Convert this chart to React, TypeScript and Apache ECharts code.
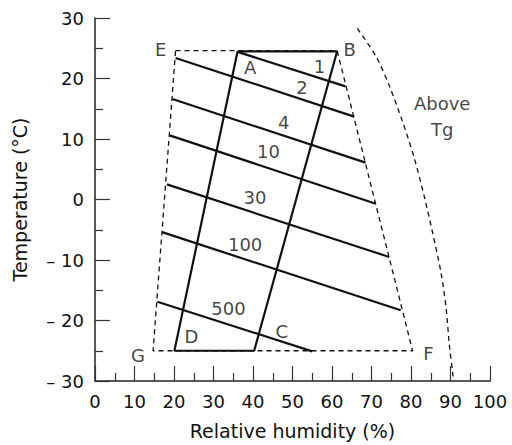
import React, { useEffect, useRef } from "react";
import * as echarts from "echarts";

// Region outline (dashed): E -> B -> F -> G -> E
const outlineX = [20.4, 61.3, 80.4, 14.7, 20.4];
const outlineY = [24.6, 24.6, -25.0, -25.0, 24.6];

// Solid parallelogram A -> B -> C -> D -> A
const paraX = [36.1, 61.3, 40.3, 20.1, 36.1];
const paraY = [24.5, 24.5, -25.0, -25.0, 24.5];

// Iso-lines (constant values)
const isoNames = ["1", "2", "4", "10", "30", "100", "500"];
const isoStartX = [36.1, 20.4, 19.6, 18.9, 18.2, 17.0, 15.8];
const isoStartY = [24.4, 23.4, 16.6, 10.6, 2.5, -5.4, -16.9];
const isoEndX = [63.4, 65.6, 68.5, 71.1, 74.5, 77.4, 55.0];
const isoEndY = [18.7, 13.7, 6.1, -0.7, -9.5, -18.3, -25.1];

// Above Tg boundary curve
const tgX = [66.4, 71.1, 74.5, 77.9, 80.8, 83.4, 85.5, 87.6, 88.9, 89.7, 90.6, 90.8];
const tgY = [28.3, 23.7, 18.8, 12.8, 6.9, 0.4, -5.6, -12.1, -18.0, -24.0, -28.9, -30.0];

// Text labels
const labelText = ["1", "2", "4", "10", "30", "100", "500", "A", "B", "E", "C", "D", "G", "F", "Above\nTg"];
const labelX = [56.8, 52.4, 47.8, 43.9, 40.5, 38.0, 33.8, 39.3, 64.5, 16.6, 47.3, 24.4, 10.9, 84.4, 87.9];
const labelY = [22.0, 18.5, 12.7, 7.9, 0.4, -7.4, -18.0, 21.8, 24.8, 24.8, -21.9, -22.7, -25.8, -25.4, 13.7];

const xTicksMin = 0;
const xTicksMax = 100;
const yTicksMin = -30;
const yTicksMax = 30;

const FONT = "DejaVu Sans";
const INK = "#111";

function zip(xs: number[], ys: number[]) {
  return xs.map((x, i) => [x, ys[i]]);
}

export default function App() {
  const ref = useRef<HTMLDivElement>(null);
  useEffect(() => {
    if (!ref.current) return;
    const chart = echarts.init(ref.current, undefined, { renderer: "svg" });
    const axisCommon = {
      axisLine: { show: true, onZero: false, lineStyle: { color: "#222", width: 1.5 } },
      axisTick: { show: true, inside: true, length: 15, lineStyle: { color: "#333", width: 1.2 } },
      minorTick: { show: true, splitNumber: 2, length: 8, lineStyle: { color: "#333", width: 1.2 } },
      splitLine: { show: false },
      axisLabel: { color: INK, fontSize: 18, fontFamily: FONT, margin: 11 },
      nameTextStyle: { color: INK, fontSize: 19, fontFamily: FONT },
      nameLocation: "middle" as const,
    };
    const series: any[] = [];
    series.push({
      type: "line",
      data: zip(outlineX, outlineY),
      symbol: "none",
      lineStyle: { color: INK, width: 1.3, type: [5, 4] },
      z: 1,
    });
    series.push({
      type: "line",
      data: zip(tgX, tgY),
      symbol: "none",
      smooth: 0.3,
      lineStyle: { color: INK, width: 1.3, type: [5, 4] },
      z: 1,
    });
    series.push({
      type: "line",
      data: zip(paraX, paraY),
      symbol: "none",
      lineStyle: { color: INK, width: 2.2 },
      z: 3,
    });
    isoNames.forEach((n, i) => {
      series.push({
        type: "line",
        name: n,
        data: [
          [isoStartX[i], isoStartY[i]],
          [isoEndX[i], isoEndY[i]],
        ],
        symbol: "none",
        lineStyle: { color: INK, width: 2.2 },
        z: 3,
      });
    });
    series.push({
      type: "scatter",
      data: labelText.map((t, i) => [labelX[i], labelY[i], t]),
      symbolSize: 1,
      itemStyle: { color: "rgba(0,0,0,0)" },
      label: {
        show: true,
        position: "inside",
        formatter: (p: any) => p.data[2],
        color: INK,
        fontSize: 18,
        fontFamily: FONT,
        lineHeight: 26,
        align: "center",
        verticalAlign: "middle",
      },
      z: 5,
    });
    chart.setOption({
      animation: false,
      backgroundColor: "#fff",
      grid: { left: 95, right: 22, top: 18, bottom: 57 },
      xAxis: {
        type: "value",
        min: xTicksMin,
        max: xTicksMax,
        interval: 10,
        name: "Relative humidity (%)",
        nameGap: 40,
        ...axisCommon,
      },
      yAxis: {
        type: "value",
        min: yTicksMin,
        max: yTicksMax,
        interval: 10,
        name: "Temperature (°C)",
        nameGap: 66,
        ...axisCommon,
        axisLabel: {
          ...axisCommon.axisLabel,
          formatter: (v: number) => (v < 0 ? "– " + Math.abs(v) : String(v)),
        },
      },
      series,
    });
    return () => chart.dispose();
  }, []);
  return <div ref={ref} style={{ width: 512, height: 445, position: "absolute", left: 0, top: 0, background: "#fff" }} />;
}
